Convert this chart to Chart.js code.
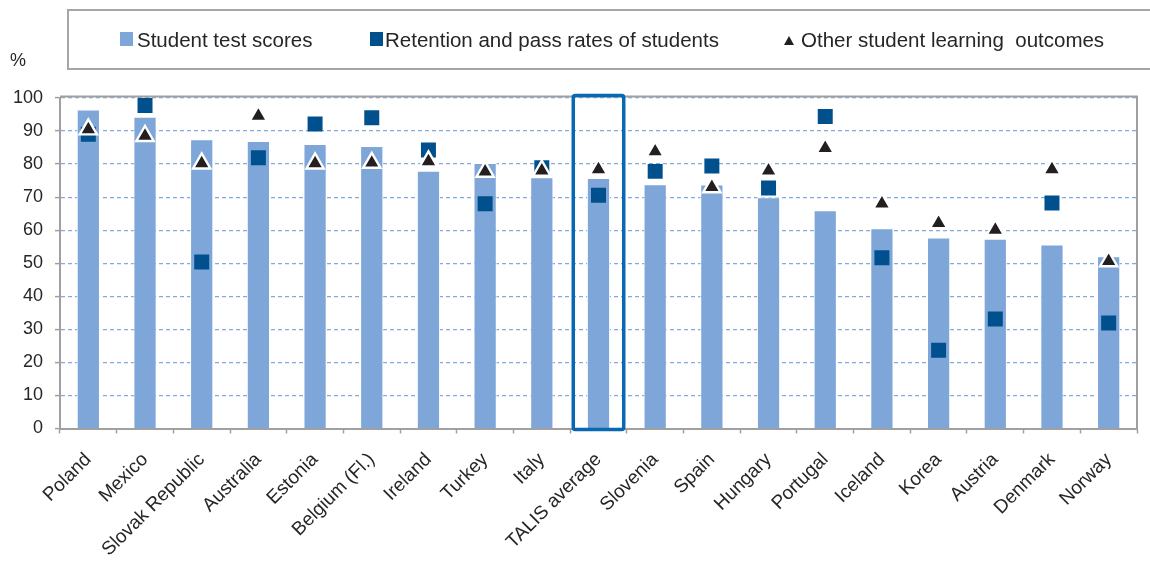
<!DOCTYPE html>
<html>
<head>
<meta charset="utf-8">
<script src="https://cdn.jsdelivr.net/npm/chart.js@4.4.1/dist/chart.umd.min.js"></script>
<style>
  html, body { margin: 0; padding: 0; background: #ffffff; }
  #wrap { position: relative; width: 1150px; height: 567px; overflow: hidden; font-family: "Liberation Sans", Arial, sans-serif; color: #262626; }
  #c { position: absolute; left: 0; top: 0; }
  #legend { position: absolute; left: 67px; top: 9px; width: 1100px; height: 57px; border: 2px solid #A6A6A6; border-right: none; box-sizing: content-box; }
  .item { position: absolute; top: 0; height: 57px; line-height: 57px; font-size: 20.5px; white-space: pre; }
  .sw { position: absolute; width: 13px; height: 14px; top: 21px; }
  #pct { position: absolute; left: 10px; top: 50px; font-size: 18px; }
</style>
</head>
<body>
<div id="wrap">
  <canvas id="c" width="1150" height="567"></canvas>
  <div id="legend">
    <div class="sw" style="left:51px; background:#7EA6D8;"></div>
    <div class="item" style="left:68px;">Student test scores</div>
    <div class="sw" style="left:301px; background:#01508E;"></div>
    <div class="item" style="left:316px;">Retention and pass rates of students</div>
    <svg style="position:absolute; left:715px; top:25px;" width="10" height="9"><polygon points="5,0 10,9 0,9" fill="#231F20"/></svg>
    <div class="item" style="left:732px;">Other student learning  outcomes</div>
  </div>
  <div id="pct">%</div>
</div>
<script>
const categories = ["Poland", "Mexico", "Slovak Republic", "Australia", "Estonia", "Belgium (Fl.)", "Ireland", "Turkey", "Italy", "TALIS average", "Slovenia", "Spain", "Hungary", "Portugal", "Iceland", "Korea", "Austria", "Denmark", "Norway"];
const testScores = [96.5, 94.3, 87.5, 87.0, 86.1, 85.5, 78.0, 80.3, 76.0, 75.8, 73.9, 73.8, 70.0, 66.0, 60.6, 57.8, 57.4, 55.7, 52.1];
const retention = [89.0, 97.7, 50.4, 81.9, 92.1, 94.0, 84.3, 68.0, 78.9, 70.6, 77.8, 79.4, 72.8, 94.4, 51.7, 23.7, 33.1, 68.2, 31.9];
const otherOutcomes = [90.5, 88.5, 80.2, 94.6, 80.2, 80.4, 80.8, 77.7, 78.0, 78.4, 83.8, 73.0, 78.0, 84.8, 68.0, 62.1, 60.1, 78.4, 50.6];
const yTicks = [0, 10, 20, 30, 40, 50, 60, 70, 80, 90, 100];
const highlightIndex = categories.indexOf("TALIS average");

const frame = {
  id: 'frame',
  beforeDatasetsDraw(chart) {
    const a = chart.chartArea, ctx = chart.ctx;
    ctx.save();
    ctx.strokeStyle = '#A0A0A0';
    ctx.lineWidth = 2;
    ctx.beginPath();
    ctx.moveTo(a.left, a.top - 1.5);
    ctx.lineTo(a.right, a.top - 1.5);
    ctx.lineTo(a.right, a.bottom);
    ctx.stroke();
    ctx.restore();
  },
  afterDatasetsDraw(chart) {
    const x = chart.scales.x, y = chart.scales.y, ctx = chart.ctx;
    const cx = x.getPixelForValue(highlightIndex);
    const half = (x.getPixelForValue(1) - x.getPixelForValue(0)) * 0.445;
    const top = y.top - 2.5, bottom = y.bottom + 1;
    ctx.save();
    ctx.strokeStyle = '#0868B2';
    ctx.lineWidth = 3.5;
    ctx.beginPath();
    if (ctx.roundRect) ctx.roundRect(cx - half, top, half * 2, bottom - top, 2);
    else ctx.rect(cx - half, top, half * 2, bottom - top);
    ctx.stroke();
    ctx.restore();
  }
};

new Chart(document.getElementById('c'), {
  type: 'bar',
  data: {
    labels: categories,
    datasets: [
      {
        label: 'Student test scores',
        data: testScores,
        backgroundColor: '#7EA6D8',
        borderColor: '#ffffff',
        borderWidth: 1,
        barPercentage: 0.41,
        categoryPercentage: 1.0,
        order: 3
      },
      {
        type: 'line',
        label: 'Retention and pass rates of students',
        data: retention,
        showLine: false,
        pointStyle: 'rect',
        pointRadius: 10.6,
        pointHoverRadius: 10.6,
        pointBackgroundColor: '#01508E',
        pointBorderColor: '#01508E',
        pointBorderWidth: 0,
        order: 2
      },
      {
        type: 'line',
        label: 'Other student learning outcomes',
        data: otherOutcomes,
        showLine: false,
        pointStyle: 'triangle',
        pointRadius: 10,
        pointHoverRadius: 10,
        pointBackgroundColor: '#231F20',
        pointBorderColor: '#ffffff',
        pointBorderWidth: 2.4,
        order: 1
      }
    ]
  },
  options: {
    responsive: false,
    animation: false,
    events: [],
    layout: { padding: { top: 98, right: 13, left: 0, bottom: 0 } },
    plugins: { legend: { display: false }, tooltip: { enabled: false } },
    scales: {
      x: {
        afterFit(s) { s.height = 138.5; },
        grid: { drawOnChartArea: false, drawTicks: true, tickLength: 5, tickColor: '#A0A0A0', tickWidth: 1.5, offset: true },
        border: { display: true, color: '#A0A0A0', width: 2 },
        ticks: {
          autoSkip: false, minRotation: 45, maxRotation: 45, padding: 15,
          color: '#262626',
          font: { family: '"Liberation Sans", Arial, sans-serif', size: 19 }
        }
      },
      y: {
        min: 0, max: 100,
        afterFit(s) { s.width = 60; },
        afterBuildTicks(s) { s.ticks = yTicks.map(v => ({ value: v })); },
        grid: {
          color: (c) => (c.tick && c.tick.value === 0) ? 'rgba(0,0,0,0)' : '#84AADB',
          lineWidth: 1.2,
          drawTicks: true, tickLength: 5, tickColor: '#A0A0A0', tickWidth: 1.5, tickBorderDash: []
        },
        border: { display: true, color: '#A0A0A0', width: 2, dash: [4, 3] },
        ticks: {
          padding: 12,
          color: '#262626',
          font: { family: '"Liberation Sans", Arial, sans-serif', size: 18 }
        }
      }
    }
  },
  plugins: [frame]
});
</script>
</body>
</html>
